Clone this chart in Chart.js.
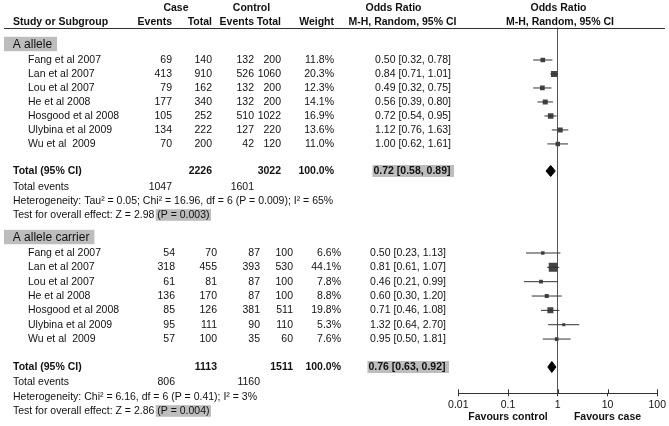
<!DOCTYPE html>
<html><head><meta charset="utf-8">
<script src="https://cdn.jsdelivr.net/npm/chart.js@4/dist/chart.umd.min.js"></script>
<style>html,body{margin:0;padding:0;background:#fff;}#wrap{width:669px;height:426px;position:relative;}</style>
</head><body><div id="wrap"><canvas id="c" width="669" height="426"></canvas></div>
<script>
// ---------------- data ----------------
const studies = ['Fang et al 2007','Lan et al 2007','Lou et al 2007','He et al 2008','Hosgood et al 2008','Ulybina et al 2009','Wu et al  2009'];
const groups = ['A allele','A allele carrier'];
const caseEvents = [[69,413,79,177,105,134,70],[54,318,61,136,85,95,57]];
const caseTotal  = [[140,910,162,340,252,222,200],[70,455,81,170,126,111,100]];
const ctrlEvents = [[132,526,132,132,510,127,42],[87,393,87,87,381,90,35]];
const ctrlTotal  = [[200,1060,200,200,1022,220,120],[100,530,100,100,511,110,60]];
const weights    = [[11.8,20.3,12.3,14.1,16.9,13.6,11.0],[6.6,44.1,7.8,8.8,19.8,5.3,7.6]];
const orEst = [[0.50,0.84,0.49,0.56,0.72,1.12,1.00],[0.50,0.81,0.46,0.60,0.71,1.32,0.95]];
const orLo  = [[0.32,0.71,0.32,0.39,0.54,0.76,0.62],[0.23,0.61,0.21,0.30,0.46,0.64,0.50]];
const orHi  = [[0.78,1.01,0.75,0.80,0.95,1.63,1.61],[1.13,1.07,0.99,1.20,1.08,2.70,1.81]];
const totalCase = [2226,1113];
const totalCtrl = [3022,1511];
const totalWeight = [100.0,100.0];
const totalCaseEvents = [1047,806];
const totalCtrlEvents = [1601,1160];
const pooledEst = [0.72,0.76];
const pooledLo  = [0.58,0.63];
const pooledHi  = [0.89,0.92];
const heterogeneity = ['Heterogeneity: Tau\u00b2 = 0.05; Chi\u00b2 = 16.96, df = 6 (P = 0.009); I\u00b2 = 65%','Heterogeneity: Chi\u00b2 = 6.16, df = 6 (P = 0.41); I\u00b2 = 3%'];
const overallZ = ['Test for overall effect: Z = 2.98 ','Test for overall effect: Z = 2.86 '];
const overallP = ['(P = 0.003)','(P = 0.004)'];
const tickValues = [0.01,0.1,1,10,100];
const tickLabels = ['0.01','0.1','1','10','100'];
const favours = ['Favours control','Favours case'];
const favoursAt = [0.1,10];

// ---------------- layout ----------------
const FONT = '"Liberation Sans", Arial, Helvetica, sans-serif';
const FS = 10.5;
const Y_MAX = 25.76;
const LAYOUT = [
  {label:1.162, first:2.289, step:0.985, total:10.106, events:11.232, het:12.218, test:13.204},
  {label:14.754, first:15.88, step:1.01, total:23.908, events:24.965, het:26.021, test:27.007}
];
const COLS = [
  {ce:172, ct:212, ke:254, kt:281, w:334, or:451},
  {ce:175, ct:217, ke:260, kt:293, w:341, or:446}
];
const DH = 0.39;
const sizeFor = w => 1.35*Math.sqrt(w);
const rowsOf = g => studies.map((_, i) => LAYOUT[g].first + LAYOUT[g].step * i);
const f2 = v => v.toFixed(2);
const orText = (e,l,h) => f2(e)+' ['+f2(l)+', '+f2(h)+']';

const datasets = [];
groups.forEach((g, gi) => {
  const rows = rowsOf(gi);
  rows.forEach((r, i) => {
    datasets.push({type:'line', data:[{x:orLo[gi][i], y:r},{x:orHi[gi][i], y:r}],
      borderColor:'#333', borderWidth:1, pointRadius:0, fill:false});
  });
  datasets.push({type:'scatter', data: rows.map((r,i)=>({x:orEst[gi][i], y:r})),
    pointStyle:'rect', backgroundColor:'#444', borderColor:'#444', borderWidth:0,
    pointRadius: c => sizeFor(weights[gi][c.dataIndex]) / Math.SQRT2});
  const tr = LAYOUT[gi].total;
  datasets.push({type:'line', data:[
      {x:pooledLo[gi], y:tr},{x:pooledEst[gi], y:tr-DH},{x:pooledHi[gi], y:tr},{x:pooledEst[gi], y:tr+DH},{x:pooledLo[gi], y:tr}],
    borderColor:'#000', backgroundColor:'#000', borderWidth:1, pointRadius:0, fill:'shape', tension:0});
});

function txt(ctx, s, x, y, align, bold, size) {
  ctx.font = (bold ? 'bold ' : '') + (size || FS) + 'px ' + FONT;
  ctx.textAlign = align;
  ctx.fillText(s, x, y);
  return ctx.measureText(s).width;
}

const tablePlugin = {
  id: 'table',
  afterDraw(chart) {
    const ctx = chart.ctx, ys = chart.scales.y, xs = chart.scales.x, ca = chart.chartArea;
    const Y = r => ys.getPixelForValue(r);
    ctx.save();
    ctx.textBaseline = 'middle';
    ctx.fillStyle = '#111';
    // header line
    ctx.strokeStyle = '#333'; ctx.lineWidth = 1;
    ctx.beginPath(); ctx.moveTo(4, Math.round(ca.top)+0.5); ctx.lineTo(665, Math.round(ca.top)+0.5); ctx.stroke();
    // headers
    const h1 = 8, h2 = 22.5;
    txt(ctx, 'Case', 176, h1, 'center', true);
    txt(ctx, 'Control', 251.5, h1, 'center', true);
    txt(ctx, 'Odds Ratio', 393.5, h1, 'center', true);
    txt(ctx, 'Odds Ratio', 558.5, h1, 'center', true);
    txt(ctx, 'Study or Subgroup', 13, h2, 'left', true);
    txt(ctx, 'Events', COLS[0].ce, h2, 'right', true);
    txt(ctx, 'Total', COLS[0].ct, h2, 'right', true);
    txt(ctx, 'Events', COLS[0].ke, h2, 'right', true);
    txt(ctx, 'Total', COLS[0].kt, h2, 'right', true);
    txt(ctx, 'Weight', COLS[0].w, h2, 'right', true);
    txt(ctx, 'M-H, Random, 95% CI', 402.5, h2, 'center', true);
    txt(ctx, 'M-H, Random, 95% CI', 560, h2, 'center', true);

    groups.forEach((g, gi) => {
      const C = COLS[gi], L = LAYOUT[gi];
      // group label box
      ctx.font = '12px ' + FONT;
      const gw = ctx.measureText(g).width;
      const gy = Y(L.label);
      ctx.fillStyle = '#bdbdbd';
      ctx.fillRect(4, gy - 7.2, 12.7 + gw + 5 - 4, 14.4);
      ctx.fillStyle = '#111';
      txt(ctx, g, 12.7, gy + 0.5, 'left', false, 12);
      // studies
      rowsOf(gi).forEach((r, i) => {
        const y = Y(r);
        txt(ctx, studies[i], 28, y, 'left');
        txt(ctx, String(caseEvents[gi][i]), C.ce, y, 'right');
        txt(ctx, String(caseTotal[gi][i]), C.ct, y, 'right');
        txt(ctx, String(ctrlEvents[gi][i]), C.ke, y, 'right');
        txt(ctx, String(ctrlTotal[gi][i]), C.kt, y, 'right');
        txt(ctx, weights[gi][i].toFixed(1) + '%', C.w, y, 'right');
        txt(ctx, orText(orEst[gi][i], orLo[gi][i], orHi[gi][i]), C.or, y, 'right');
      });
      // total
      const ty = Y(L.total);
      txt(ctx, 'Total (95% CI)', 13, ty, 'left', true);
      txt(ctx, String(totalCase[gi]), C.ct, ty, 'right', true);
      txt(ctx, String(totalCtrl[gi]), C.kt, ty, 'right', true);
      txt(ctx, totalWeight[gi].toFixed(1) + '%', C.w, ty, 'right', true);
      const ps = orText(pooledEst[gi], pooledLo[gi], pooledHi[gi]);
      ctx.font = 'bold ' + FS + 'px ' + FONT;
      const pw = ctx.measureText(ps).width;
      ctx.fillStyle = '#bdbdbd';
      ctx.fillRect(C.or + 1.5 - pw - 3, ty - 6, pw + 4.5, 12);
      ctx.fillStyle = '#111';
      txt(ctx, ps, C.or - 0.5, ty, 'right', true);
      // total events
      const ey = Y(L.events);
      txt(ctx, 'Total events', 13, ey, 'left');
      txt(ctx, String(totalCaseEvents[gi]), C.ce, ey, 'right');
      txt(ctx, String(totalCtrlEvents[gi]), C.ke, ey, 'right');
      // heterogeneity
      txt(ctx, heterogeneity[gi], 13, Y(L.het), 'left');
      // overall effect
      const oy = Y(L.test);
      const zw = txt(ctx, overallZ[gi], 13, oy, 'left');
      ctx.font = FS + 'px ' + FONT;
      const pww = ctx.measureText(overallP[gi]).width;
      ctx.fillStyle = '#bdbdbd';
      ctx.fillRect(13 + zw - 1.5, oy - 5.8, pww + 3, 11.6);
      ctx.fillStyle = '#111';
      txt(ctx, overallP[gi], 13 + zw, oy, 'left');
    });

    // upward tick stubs on axis
    ctx.strokeStyle = '#333';
    tickValues.forEach(v => {
      const x = Math.round(xs.getPixelForValue(v)) + 0.5;
      ctx.beginPath(); ctx.moveTo(x, ca.bottom); ctx.lineTo(x, ca.bottom - 4); ctx.stroke();
    });
    // favours labels
    favours.forEach((s, i) => txt(ctx, s, xs.getPixelForValue(favoursAt[i]), 416.7, 'center', true));
    ctx.restore();
  }
};

new Chart(document.getElementById('c'), {
  type: 'scatter',
  data: { datasets },
  options: {
    responsive: false, animation: false, devicePixelRatio: 1, events: [],
    layout: { padding: { left: 458.3, right: 11.7, top: 27.5, bottom: 0 } },
    plugins: { legend: { display: false }, tooltip: { enabled: false } },
    scales: {
      x: {
        type: 'logarithmic', min: 0.01, max: 100, position: 'bottom',
        afterBuildTicks: s => { s.ticks = tickValues.map(v => ({ value: v })); },
        afterFit: s => { s.height = 32.7; },
        ticks: { callback: (v, i) => tickLabels[i], color: '#111', font: { size: FS, family: FONT }, padding: 3, maxRotation: 0, autoSkip: false },
        grid: { color: c => (c.tick && c.tick.value === 1) ? '#555' : 'rgba(0,0,0,0)', lineWidth: 1, drawOnChartArea: true, drawTicks: true, tickLength: 3, tickColor: '#333' },
        border: { display: true, color: '#333', width: 1 }
      },
      y: { type: 'linear', display: false, reverse: true, min: 0, max: Y_MAX }
    }
  },
  plugins: [tablePlugin]
});
</script>
</body></html>
